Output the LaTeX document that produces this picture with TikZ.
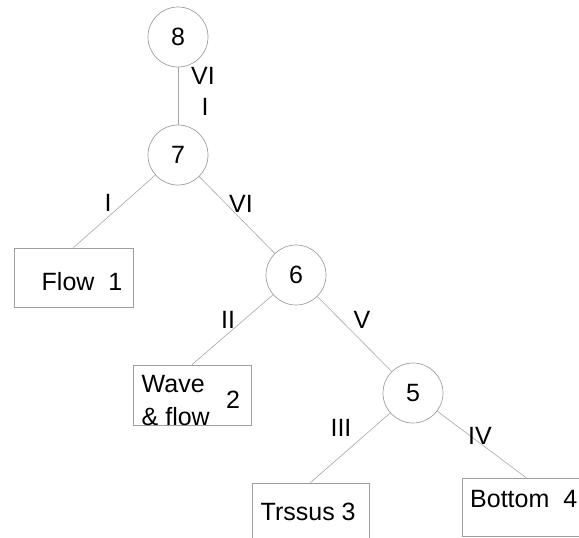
\documentclass[tikz,border=0pt]{standalone}
\usepackage{fontspec}
\setmainfont{Liberation Sans}
\begin{document}
\begin{tikzpicture}[x=1pt,y=-1pt,
  every node/.style={font=\fontsize{25}{30}\selectfont},
  circ/.style={circle,draw=gray!75,line width=0.7pt,minimum size=60pt,inner sep=0pt},
  box/.style={rectangle,draw=gray!75,line width=0.8pt,inner sep=0pt},
  conn/.style={draw=gray!70,line width=0.6pt},
  lab/.style={inner sep=0pt},
  txt/.style={inner sep=0pt,anchor=base west}]
\useasboundingbox (0,0) rectangle (579,538);
\clip (0,0) rectangle (579,538);
% circles
\node[circ] (n8) at (178,37) {8};
\node[circ] (n7) at (178,155) {7};
\node[circ] (n6) at (296,275) {6};
\node[circ] (n5) at (413,393) {5};
% boxes
\node[box,minimum width=119pt,minimum height=59pt] (b1) at (73.5,277.5) {};
\node[box,minimum width=118pt,minimum height=60pt] (b2) at (192,395) {};
\node[box,minimum width=117pt,minimum height=58pt] (b3) at (310.5,512) {};
\node[box,minimum width=128pt,minimum height=58pt] (b4) at (526,507) {};
% box texts
\node[txt] (t1) at (41.5,290) {Flow\hspace{14pt}1};
\node[txt] (t2a) at (141.5,392) {Wave};
\node[txt] (t2b) at (141.5,425) {\& flow};
\node[txt] (t2c) at (226,408) {2};
\node[txt] (t3) at (260.5,520) {Trssus 3};
\node[txt] (t4) at (470,507) {Bottom\hspace{14pt}4};
% connectors
\draw[conn] (n8) -- (n7);
\draw[conn] (n7) -- (b1.north);
\draw[conn] (n7) -- (n6);
\draw[conn] (n6) -- (b2.north);
\draw[conn] (n6) -- (n5);
\draw[conn] (n5) -- (b3.north);
\draw[conn] (n5) -- (b4.north);
% edge labels
\node[lab] (l1) at (203,76) {VI};
\node[lab] (l2) at (205,107) {I};
\node[lab] (l3) at (108,203) {I};
\node[lab] (l4) at (241,204) {VI};
\node[lab] (l5) at (228,320) {II};
\node[lab] (l6) at (362,320) {V};
\node[lab] (l7) at (341,428) {III};
\node[lab] (l8) at (480,436) {IV};
\end{tikzpicture}
\end{document}
